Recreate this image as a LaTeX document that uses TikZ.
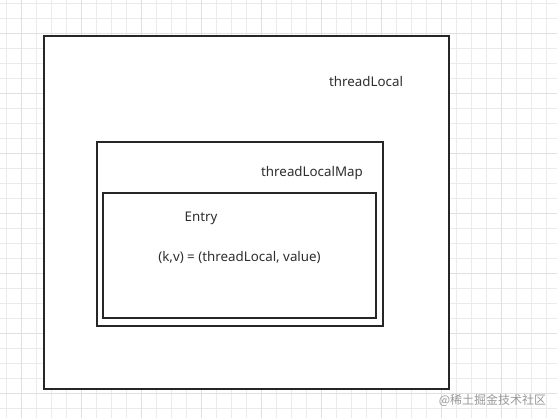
\documentclass[tikz,border=0pt]{standalone}
\usepackage{fontspec}
\setmainfont{Noto Sans}
\newfontfamily\cjkfont{Noto Sans CJK SC}
\begin{document}
\begin{tikzpicture}[x=0.75pt,y=-0.75pt,
  box/.style={draw=black!85,line width=1.5pt},
  lbl/.style={font=\fontsize{10}{12}\selectfont,text=black!82,inner sep=0pt},
  minorgrid/.style={draw=black!8,line width=0.6pt},
  majorgrid/.style={draw=black!12,line width=0.75pt}]
\useasboundingbox (0,0) rectangle (557,418);
\fill[white] (0,0) rectangle (557,418);
% grid
\foreach \i in {0,...,36} {\draw[minorgrid] ({6.7+15*\i},0) -- ({6.7+15*\i},418);}
\foreach \i in {0,...,27} {\draw[minorgrid] (0,{3.3+15*\i}) -- (557,{3.3+15*\i});}
\foreach \i in {0,...,9} {\draw[majorgrid] ({21.7+60*\i},0) -- ({21.7+60*\i},418);}
\foreach \i in {0,...,6} {\draw[majorgrid] (0,{33.3+60*\i}) -- (557,{33.3+60*\i});}
% boxes
\draw[box,fill=white] (44,36) rectangle (449,389);
\draw[box] (97,142) rectangle (383,326);
\draw[box] (103,193) rectangle (376,318);
% labels
\node[lbl] (tl) at (366,81) {threadLocal};
\node[lbl] (tlm) at (312,173) {threadLocalMap};
\node[lbl] (entry) at (201,218) {Entry};
\node[lbl] (kv) at (239.5,257) {(k,v) = (threadLocal, value)};
\node[font=\cjkfont\fontsize{9}{11}\selectfont,text=black!40,inner sep=0pt] (wm) at (492.5,400) {@稀土掘金技术社区};
\end{tikzpicture}
\end{document}
